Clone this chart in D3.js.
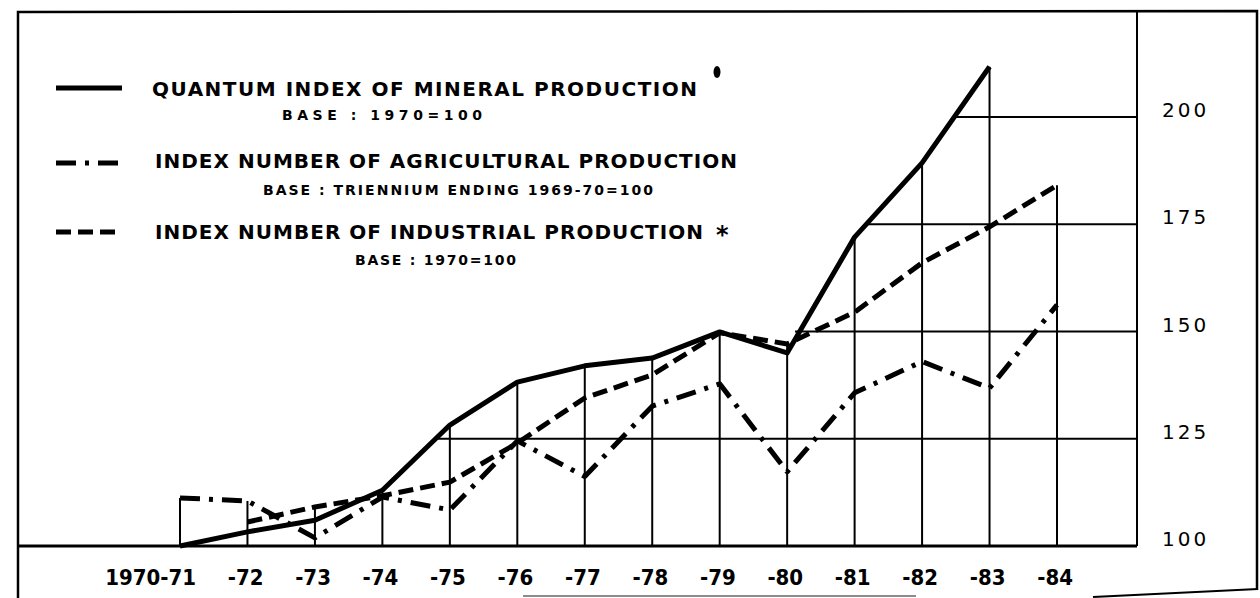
<!DOCTYPE html>
<html>
<head>
<meta charset="utf-8">
<script src="https://cdn.jsdelivr.net/npm/d3@7"></script>
<style>
  html, body { margin: 0; padding: 0; background: #fff; }
  svg { display: block; }
  .legend-title { font-family: "DejaVu Sans", sans-serif; font-weight: bold; font-size: 20px; }
  .legend-sub { font-family: "DejaVu Sans", sans-serif; font-weight: bold; font-size: 14px; }
  .ytick { font-family: "DejaVu Sans", sans-serif; font-size: 20px; letter-spacing: 3px; }
  .xtick { font-family: "DejaVu Sans Condensed", "DejaVu Sans", sans-serif; font-stretch: condensed; font-weight: bold; font-size: 22px; }
</style>
</head>
<body>
<div id="chart"></div>
<script>
const periods = ['1970-71', '-72', '-73', '-74', '-75', '-76', '-77', '-78', '-79', '-80', '-81', '-82', '-83', '-84']
const mineral = [100, 103.3, 106, 113, 128.2, 138.2, 142, 143.8, 149.9, 145, 172, 189.3, 211.7, null]
const agricultural = [111.2, 110.5, 101.9, 111.4, 108.4, 124.5, 116.2, 132.6, 137.8, 117.3, 135.7, 143, 136.8, 156.2]
const industrial = [null, 105.6, 109.1, 111.7, 114.9, 124, 134.5, 139.9, 149.7, 147.1, 154.5, 166, 174.4, 184.1]
const yTicks = [100, 125, 150, 175, 200]

const legendItems = [
  { title: 'QUANTUM INDEX OF MINERAL PRODUCTION', sub: 'BASE : 1970=100', dash: null },
  { title: 'INDEX NUMBER OF AGRICULTURAL PRODUCTION', sub: 'BASE : TRIENNIUM ENDING 1969-70=100', dash: '20,9,4,9' },
  { title: 'INDEX NUMBER OF INDUSTRIAL PRODUCTION', sub: 'BASE : 1970=100', dash: '15,7' }
]

const width = 1260
const height = 598

const svg = d3.select('#chart')
  .append('svg')
  .attr('width', width)
  .attr('height', height)

const x = d3.scalePoint().domain(periods).range([180, 1057])
const y = d3.scaleLinear().domain([100, 200]).range([546, 117])
const axisX = 1137
const frameLeft = 18

// highest curve at each period, used for the drop lines and gridline starts
const envelope = periods.map((p, i) => d3.max([mineral[i], agricultural[i], industrial[i]]))

const gridStart = v => {
  for (let i = 0; i < periods.length - 1; i++) {
    if (envelope[i] < v && envelope[i + 1] >= v) {
      const t = (v - envelope[i]) / (envelope[i + 1] - envelope[i])
      return x(periods[i]) + t * x.step()
    }
  }
  return frameLeft
}

const ink = '#000'

// frame
svg.append('path')
  .attr('d', `M${frameLeft},598 L${frameLeft},12 L1257,11 L1257,590`)
  .attr('fill', 'none').attr('stroke', ink).attr('stroke-width', 2.5)
svg.append('path')
  .attr('d', 'M1093,597 L1258,589')
  .attr('fill', 'none').attr('stroke', ink).attr('stroke-width', 2)
svg.append('line')
  .attr('x1', 523).attr('x2', 916).attr('y1', 596).attr('y2', 596)
  .attr('stroke', '#666').attr('stroke-width', 1.5)

// right axis line
svg.append('line')
  .attr('x1', axisX).attr('x2', axisX)
  .attr('y1', 11).attr('y2', y(100))
  .attr('stroke', ink).attr('stroke-width', 2)

// horizontal gridlines
svg.append('g')
  .selectAll('line')
  .data(yTicks)
  .enter()
  .append('line')
  .attr('x1', d => d === 100 ? frameLeft : gridStart(d))
  .attr('x2', axisX)
  .attr('y1', d => y(d))
  .attr('y2', d => y(d))
  .attr('stroke', ink)
  .attr('stroke-width', d => d === 100 ? 3 : 2)

// drop lines
svg.append('g')
  .selectAll('line')
  .data(periods)
  .enter()
  .append('line')
  .attr('x1', d => x(d))
  .attr('x2', d => x(d))
  .attr('y1', y(100))
  .attr('y2', (d, i) => y(envelope[i]))
  .attr('stroke', ink)
  .attr('stroke-width', 2)

// y labels
svg.append('g')
  .selectAll('text')
  .data(yTicks)
  .enter()
  .append('text')
  .attr('class', 'ytick')
  .attr('x', 1162)
  .attr('y', d => y(d) - 7)
  .attr('dy', '0.36em')
  .text(d => d)

// x labels
svg.append('g')
  .selectAll('text')
  .data(periods)
  .enter()
  .append('text')
  .attr('class', 'xtick')
  .attr('x', d => x(d) + 16)
  .attr('y', 585)
  .attr('text-anchor', 'end')
  .text(d => d)

// series
const line = d3.line()
  .defined(d => d != null)
  .x((d, i) => x(periods[i]))
  .y(d => y(d))

const series = [
  { values: mineral, dash: null },
  { values: agricultural, dash: '20,9,4,9' },
  { values: industrial, dash: '15,7' }
]

svg.append('g')
  .selectAll('path')
  .data(series)
  .enter()
  .append('path')
  .attr('d', d => line(d.values))
  .attr('fill', 'none')
  .attr('stroke', ink)
  .attr('stroke-width', 5)
  .attr('stroke-linejoin', 'round')
  .attr('stroke-dasharray', d => d.dash)

// legend
const legendRows = [
  { lineY: 88, titleY: 96, titleX: 152, titleW: 545, subX: 282, subY: 120, subW: 200 },
  { lineY: 163, titleY: 168, titleX: 155, titleW: 582, subX: 263, subY: 195, subW: 390 },
  { lineY: 232, titleY: 239, titleX: 155, titleW: 548, subX: 355, subY: 265, subW: 161 }
]

const legend = svg.append('g')
legendItems.forEach((item, i) => {
  const r = legendRows[i]
  legend.append('line')
    .attr('x1', 56).attr('x2', 122)
    .attr('y1', r.lineY).attr('y2', r.lineY)
    .attr('stroke', ink).attr('stroke-width', 5)
    .attr('stroke-dasharray', item.dash)
  legend.append('text')
    .attr('class', 'legend-title')
    .attr('x', r.titleX).attr('y', r.titleY)
    .attr('textLength', r.titleW).attr('lengthAdjust', 'spacing')
    .text(item.title)
  legend.append('text')
    .attr('class', 'legend-sub')
    .attr('x', r.subX).attr('y', r.subY)
    .attr('textLength', r.subW).attr('lengthAdjust', 'spacing')
    .text(item.sub)
})

// footnote marks
legend.append('ellipse')
  .attr('cx', 717).attr('cy', 72).attr('rx', 3.5).attr('ry', 6)
  .attr('fill', ink)
legend.append('text')
  .attr('class', 'legend-title')
  .attr('x', 716).attr('y', 243)
  .style('font-size', '24px')
  .text('*')
</script>
</body>
</html>
